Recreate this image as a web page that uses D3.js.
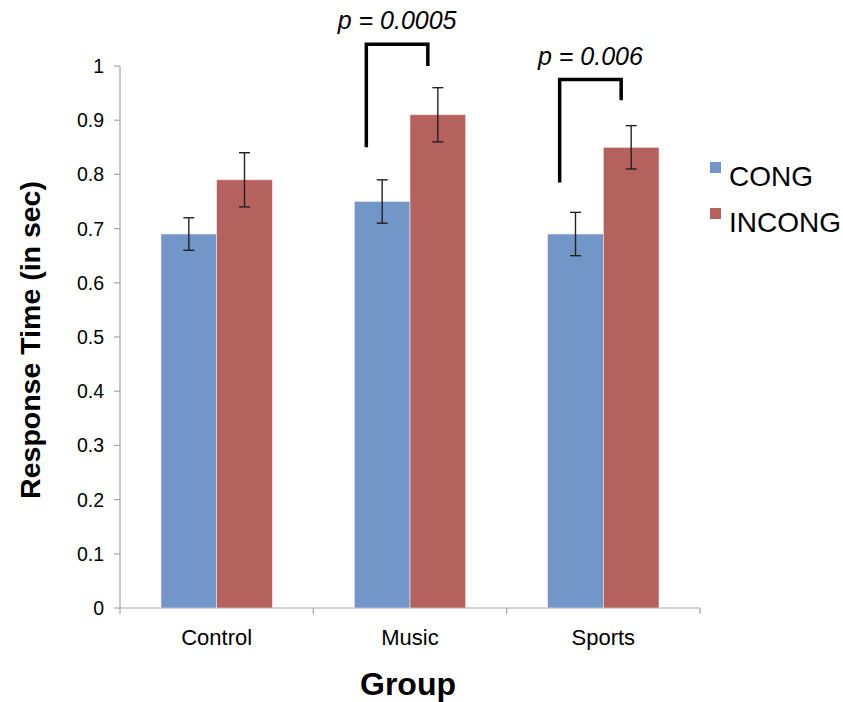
<!DOCTYPE html>
<html>
<head>
<meta charset="utf-8">
<script src="https://cdn.jsdelivr.net/npm/d3@7"></script>
<style>
body { margin: 0; background: #fff; }
text { font-family: "Liberation Sans", Arial, sans-serif; }
</style>
</head>
<body>
<script>
var groups = ["Control", "Music", "Sports"];
var series = ["CONG", "INCONG"];
var congValues = [0.69, 0.75, 0.69];
var incongValues = [0.79, 0.91, 0.85];
var congErr = [0.03, 0.04, 0.04];
var incongErr = [0.05, 0.05, 0.04];
var yTicks = [0, 0.1, 0.2, 0.3, 0.4, 0.5, 0.6, 0.7, 0.8, 0.9, 1];
// significance brackets: group, left foot, top, right foot, label
var brackets = [
	{group: "Music", left: 0.85, top: 1.04, right: 1.0, label: "p = 0.0005"},
	{group: "Sports", left: 0.785, top: 0.975, right: 0.937, label: "p = 0.006"}
];
var colors = ["#7396c8", "#b5625f"];

var width = 843, height = 702;
var svg = d3.select("body").append("svg").attr("width", width).attr("height", height);

var x = d3.scaleBand().domain(groups).range([120, 700]);
var xInner = d3.scaleBand().domain(series).range([41, x.bandwidth() - 41]);
var y = d3.scaleLinear().domain([0, 1]).range([608, 66]);

// y axis
svg.append("line").attr("x1", 120).attr("x2", 120).attr("y1", y(0)).attr("y2", y(1))
	.attr("stroke", "#a6a6a6").attr("stroke-width", 1.2);
svg.selectAll("line.ytick").data(yTicks).enter().append("line")
	.attr("x1", 114).attr("x2", 120).attr("y1", d => y(d)).attr("y2", d => y(d))
	.attr("stroke", "#a6a6a6").attr("stroke-width", 1.2);
svg.selectAll("text.ylab").data(yTicks).enter().append("text")
	.attr("x", 104).attr("y", d => y(d) + 7).attr("text-anchor", "end")
	.attr("font-size", 19.5).text(d => d);

// x axis
svg.append("line").attr("x1", 120).attr("x2", 700).attr("y1", y(0)).attr("y2", y(0))
	.attr("stroke", "#a6a6a6").attr("stroke-width", 1.2);
svg.selectAll("line.xtick").data(groups.concat(["end"])).enter().append("line")
	.attr("x1", (d, i) => 120 + i * x.bandwidth()).attr("x2", (d, i) => 120 + i * x.bandwidth())
	.attr("y1", y(0)).attr("y2", y(0) + 6)
	.attr("stroke", "#a6a6a6").attr("stroke-width", 1.2);
svg.selectAll("text.xlab").data(groups).enter().append("text")
	.attr("x", d => x(d) + x.bandwidth() / 2).attr("y", 645).attr("text-anchor", "middle")
	.attr("font-size", 22).text(d => d);

// bars
var barData = [];
groups.forEach(function(g, i) {
	barData.push({g: g, s: "CONG", v: congValues[i], e: congErr[i], c: colors[0]});
	barData.push({g: g, s: "INCONG", v: incongValues[i], e: incongErr[i], c: colors[1]});
});
svg.selectAll("rect.bar").data(barData).enter().append("rect")
	.attr("x", d => x(d.g) + xInner(d.s)).attr("width", xInner.bandwidth())
	.attr("y", d => y(d.v)).attr("height", d => y(0) - y(d.v))
	.attr("fill", d => d.c).attr("stroke", "#f2e4e4").attr("stroke-width", 0.6);

// error bars
var eb = svg.selectAll("g.err").data(barData).enter().append("g")
	.attr("transform", d => "translate(" + (x(d.g) + xInner(d.s) + xInner.bandwidth() / 2) + ",0)")
	.attr("stroke", "#222").attr("stroke-width", 1.4);
eb.append("line").attr("y1", d => y(d.v - d.e)).attr("y2", d => y(d.v + d.e));
eb.append("line").attr("x1", -5.5).attr("x2", 5.5).attr("y1", d => y(d.v + d.e)).attr("y2", d => y(d.v + d.e));
eb.append("line").attr("x1", -5.5).attr("x2", 5.5).attr("y1", d => y(d.v - d.e)).attr("y2", d => y(d.v - d.e));

// brackets
brackets.forEach(function(b) {
	var xl = x(b.group) + xInner("CONG") + 12;
	var xr = x(b.group) + xInner("INCONG") + xInner.bandwidth() / 2 - 10;
	svg.append("path")
		.attr("d", "M" + xl + "," + y(b.left) + "V" + y(b.top) + "H" + xr + "V" + y(b.right))
		.attr("fill", "none").attr("stroke", "#000").attr("stroke-width", 3.5);
	svg.append("text").attr("x", (xl + xr) / 2).attr("y", y(b.top) - 15)
		.attr("text-anchor", "middle").attr("font-size", 25).attr("font-style", "italic")
		.text(b.label);
});

// legend
var leg = svg.selectAll("g.leg").data(series).enter().append("g")
	.attr("transform", (d, i) => "translate(710," + (162 + i * 46) + ")");
leg.append("rect").attr("width", 11).attr("height", 11).attr("fill", (d, i) => colors[i]);
leg.append("text").attr("x", 19).attr("y", 11 + 13).attr("font-size", 28).text(d => d);

// axis titles
svg.append("text").attr("transform", "translate(40,340) rotate(-90)")
	.attr("text-anchor", "middle").attr("font-size", 28.5).attr("font-weight", "bold")
	.text("Response Time (in sec)");
svg.append("text").attr("x", 408).attr("y", 695).attr("text-anchor", "middle")
	.attr("font-size", 32).attr("font-weight", "bold").text("Group");
</script>
</body>
</html>
